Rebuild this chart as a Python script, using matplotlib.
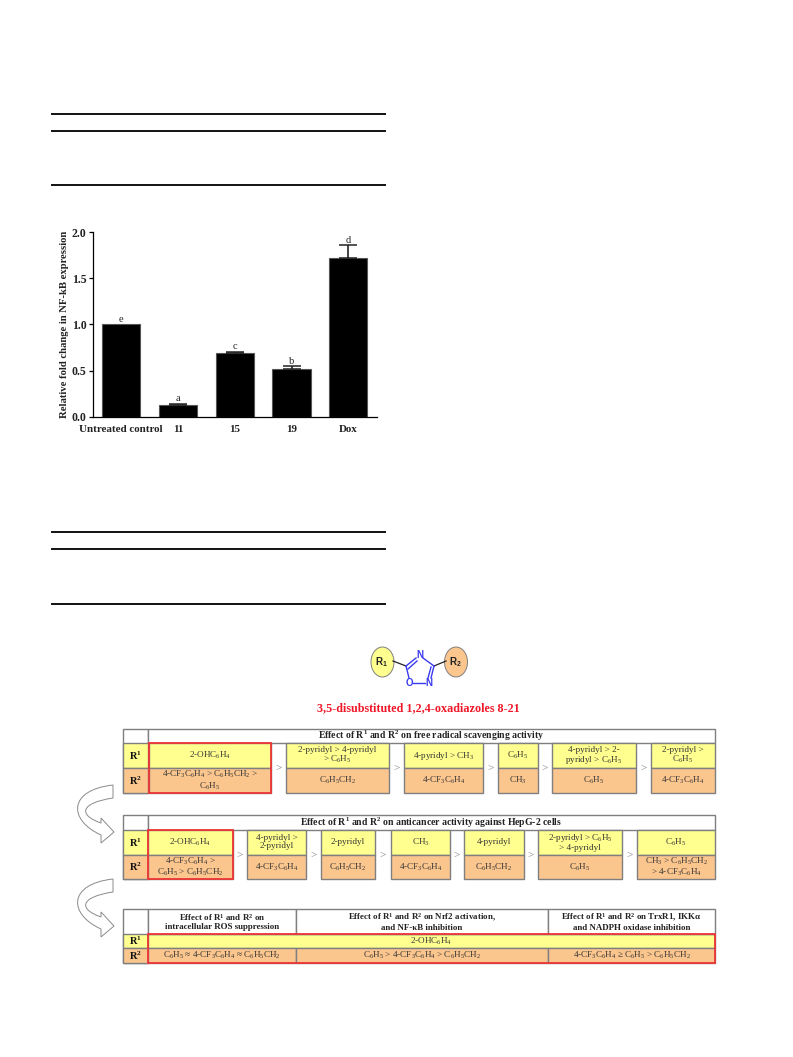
# -*- coding: utf-8 -*-
from matplotlib import pyplot as plt
from matplotlib.patches import Rectangle, Ellipse, PathPatch
from matplotlib.path import Path

W, H = 793, 1057
plt.rcParams['font.family'] = ['Liberation Serif', 'DejaVu Sans']
plt.rcParams['mathtext.fontset'] = 'custom'
plt.rcParams['mathtext.rm'] = 'Liberation Serif'
plt.rcParams['mathtext.bf'] = 'Liberation Serif:bold'
plt.rcParams['mathtext.default'] = 'regular'

# bar chart values
groups = ['Untreated control', '11', '15', '19', 'Dox']
fold_change = [1.0, 0.13, 0.69, 0.52, 1.72]
fold_error = [0.0, 0.012, 0.016, 0.026, 0.14]
letters = ['e', 'a', 'c', 'b', 'd']

# scheme tables
t1_title = 'Effect of R$^1$ and R$^2$ on free radical scavenging activity'
t1_r1 = ['2-OHC6H4', '2-pyridyl > 4-pyridyl\n> C6H5', '4-pyridyl > CH3', 'C6H5',
         '4-pyridyl > 2-\npyridyl > C6H5', '2-pyridyl >\nC6H5']
t1_r2 = ['4-CF3C6H4 > C6H5CH2 >\nC6H5', 'C6H5CH2', '4-CF3C6H4', 'CH3', 'C6H5', '4-CF3C6H4']
t1_edges = [(149, 271), (286, 389), (404, 483), (498, 538), (552, 636), (651, 715)]

t2_title = 'Effect of R$^1$ and R$^2$ on anticancer activity against HepG-2 cells'
t2_r1 = ['2-OHC6H4', '4-pyridyl >\n2-pyridyl', '2-pyridyl', 'CH3', '4-pyridyl',
         '2-pyridyl > C6H5\n> 4-pyridyl', 'C6H5']
t2_r2 = ['4-CF3C6H4 >\nC6H5 > C6H5CH2', '4-CF3C6H4', 'C6H5CH2', '4-CF3C6H4', 'C6H5CH2',
         'C6H5', 'CH3 > C6H5CH2\n> 4-CF3C6H4']
t2_edges = [(148, 233), (247, 306), (321, 375), (391, 450), (464, 524), (538, 622), (637, 715)]

t3_heads = ['Effect of R$^1$ and R$^2$ on\nintracellular ROS suppression',
            'Effect of R$^1$ and R$^2$ on Nrf2 activation,\nand NF-κB inhibition',
            'Effect of R$^1$ and R$^2$ on TrxR1, IKKα\nand NADPH oxidase inhibition']
t3_r1 = '2-OHC6H4'
t3_r2 = ['C6H5 ≈ 4-CF3C6H4 ≈ C6H5CH2', 'C6H5 > 4-CF3C6H4 > C6H5CH2', '4-CF3C6H4 ≥ C6H5 > C6H5CH2']
t3_edges = [(148, 296), (296, 548), (548, 715)]

YELLOW = '#FFFF8F'
ORANGE = '#FBC58E'
GREY = '#7F7F7F'
RED = '#EE3535'
BLUE = '#3A3AF0'


def chem(s):
    # subscript the formula digits
    for a in ['C6', 'H6', 'H5', 'H4', 'H3', 'H2', 'F3']:
        s = s.replace(a, a[0] + '$_' + a[1] + '$')
    return s


fig = plt.figure(figsize=(W / 100, H / 100), dpi=100)
page = fig.add_axes([0, 0, 1, 1])
page.set_xlim(0, W)
page.set_ylim(H, 0)
page.axis('off')


def box(x0, y0, x1, y1, fc='white', ec=GREY, lw=1.0, z=2):
    page.add_patch(Rectangle((x0, y0), x1 - x0, y1 - y0, fc=fc, ec=ec, lw=lw, zorder=z))


def label(x, y, s, size=6.6, weight='normal', color='#333333', **kw):
    page.text(x, y, s, fontsize=size, fontweight=weight, color=color, ha='center',
              va='center', linespacing=1.0, zorder=5, **kw)


# empty table rules
for y in [114, 131, 185, 532, 549, 604]:
    page.plot([51, 386], [y, y], color='#111111', lw=1.4, solid_capstyle='butt')

# bar chart
left, right, bottom, top = 92.7, 376.7, 416.7, 232.3
ax = fig.add_axes([left / W, 1 - bottom / H, (right - left) / W, (bottom - top) / H])
ax.patch.set_alpha(0)
xpos = list(range(len(groups)))
ax.bar(xpos, fold_change, width=0.67, color='black', edgecolor='#555555', linewidth=0.8)
for x, v, e in zip(xpos, fold_change, fold_error):
    if e > 0:
        ax.errorbar(x, v, yerr=[[0], [e]], color='#222222', elinewidth=1.2, capsize=6.5, capthick=1.1)
ax.set_xlim(-0.5, 4.5)
ax.set_ylim(0, 2)
ax.set_yticks([0, 0.5, 1, 1.5, 2], ['0.0', '0.5', '1.0', '1.5', '2.0'])
ax.set_xticks(xpos, groups)
ax.spines[['top', 'right']].set_visible(False)
ax.spines[['left', 'bottom']].set_linewidth(0.9)
ax.tick_params(axis='y', length=3, width=0.9, pad=1.5, labelsize=8.5)
ax.tick_params(axis='x', length=0, pad=6, labelsize=7.9)
for t in ax.get_yticklabels() + ax.get_xticklabels():
    t.set_fontweight('bold')
    t.set_color('#222222')
ax.set_ylabel('Relative fold change in NF-kB expression', fontsize=7.7, fontweight='bold',
              color='#222222', labelpad=2)
for x, v, e, s in zip(xpos, fold_change, fold_error, letters):
    ax.annotate(s, (x, v + e), xytext=(0, 0.5), textcoords='offset points', ha='center',
                va='bottom', fontsize=7.5, color='#222222')

# oxadiazole structure
page.add_patch(Ellipse((382.5, 662), 23, 30, fc=YELLOW, ec=GREY, lw=0.7, zorder=2))
page.add_patch(Ellipse((456, 662), 23, 30, fc=ORANGE, ec=GREY, lw=0.7, zorder=2))
label(381, 662, 'R$_1$', size=7, weight='bold', color='#222222', family='Liberation Sans')
label(455, 662, 'R$_2$', size=7, weight='bold', color='#222222', family='Liberation Sans')
page.plot([393, 406], [661, 666], color='#222222', lw=0.9, zorder=3)
page.plot([434, 446], [666, 661], color='#222222', lw=0.9, zorder=3)
page.plot([406, 416], [666, 658], color=BLUE, lw=1.0, zorder=3)
page.plot([408, 417], [669, 661], color=BLUE, lw=1.0, zorder=3)
page.plot([423, 434], [658, 666], color=BLUE, lw=1.0, zorder=3)
page.plot([434, 431], [666, 678], color=BLUE, lw=1.0, zorder=3)
page.plot([431, 428], [667, 678], color=BLUE, lw=1.0, zorder=3)
page.plot([406, 409], [666, 678], color=BLUE, lw=1.0, zorder=3)
page.plot([413, 425], [683, 683], color=BLUE, lw=1.0, zorder=3)
label(420, 655, 'N', size=7, weight='bold', color=BLUE, family='Liberation Sans')
label(409.5, 683, 'O', size=7, weight='bold', color=BLUE, family='Liberation Sans')
label(429, 683, 'N', size=7, weight='bold', color=BLUE, family='Liberation Sans')
label(418, 708, '3,5-disubstituted 1,2,4-oxadiazoles 8-21', size=8.7, weight='bold', color='#F01828')


def sar_table(top_y, head_y, r1_y, r2_y, title, r1s, r2s, edges):
    box(123, top_y, 148, r2_y)
    box(148, top_y, 715, head_y)
    label(431, (top_y + head_y) / 2, title, size=7.0, weight='bold', color='#222222')
    box(123, head_y, 148, r1_y, fc=YELLOW)
    box(123, r1_y, 148, r2_y, fc=ORANGE)
    label(135.5, (head_y + r1_y) / 2, 'R$^1$', size=7.5, weight='bold', color='#111111')
    label(135.5, (r1_y + r2_y) / 2, 'R$^2$', size=7.5, weight='bold', color='#111111')
    for i, (x0, x1) in enumerate(edges):
        box(x0, head_y, x1, r1_y, fc=YELLOW)
        box(x0, r1_y, x1, r2_y, fc=ORANGE)
        label((x0 + x1) / 2, (head_y + r1_y) / 2, chem(r1s[i]))
        label((x0 + x1) / 2, (r1_y + r2_y) / 2, chem(r2s[i]))
        if i:
            label((edges[i - 1][1] + x0) / 2, r1_y, '>', size=8, color=GREY)
    box(edges[0][0], head_y, edges[0][1], r2_y, fc='none', ec=RED, lw=1.3, z=4)


sar_table(729, 743, 768, 793, t1_title, t1_r1, t1_r2, t1_edges)
sar_table(815, 830, 855, 879, t2_title, t2_r1, t2_r2, t2_edges)

# third table
box(123, 909, 148, 963)
box(123, 934, 148, 948, fc=YELLOW)
box(123, 948, 148, 963, fc=ORANGE)
label(135.5, 941, 'R$^1$', size=7.5, weight='bold', color='#111111')
label(135.5, 955.5, 'R$^2$', size=7.5, weight='bold', color='#111111')
box(148, 934, 715, 948, fc=YELLOW)
label(431, 941, chem(t3_r1))
for (x0, x1), head, r2 in zip(t3_edges, t3_heads, t3_r2):
    box(x0, 909, x1, 934)
    box(x0, 948, x1, 963, fc=ORANGE)
    label((x0 + x1) / 2, 921.5, head, size=6.4, weight='bold', color='#222222')
    label((x0 + x1) / 2, 955.5, chem(r2))
box(148, 934, 715, 963, fc='none', ec=RED, lw=1.3, z=4)


def curved_arrow(y):
    # hollow arrow bending from the table above down into the next table
    verts = [(113, y), (68, y + 5), (68, y + 35), (101, y + 50), (101, y + 58), (114, y + 47),
             (101, y + 33), (101, y + 38), (78, y + 30), (80, y + 18), (113, y + 13), (113, y)]
    codes = [Path.MOVETO, Path.CURVE4, Path.CURVE4, Path.CURVE4, Path.LINETO, Path.LINETO,
             Path.LINETO, Path.LINETO, Path.CURVE4, Path.CURVE4, Path.CURVE4, Path.CLOSEPOLY]
    page.add_patch(PathPatch(Path(verts, codes), fc='white', ec='#8A8A8A', lw=0.7, zorder=1))


curved_arrow(785)
curved_arrow(879)

fig.savefig('out.png', dpi=100)
